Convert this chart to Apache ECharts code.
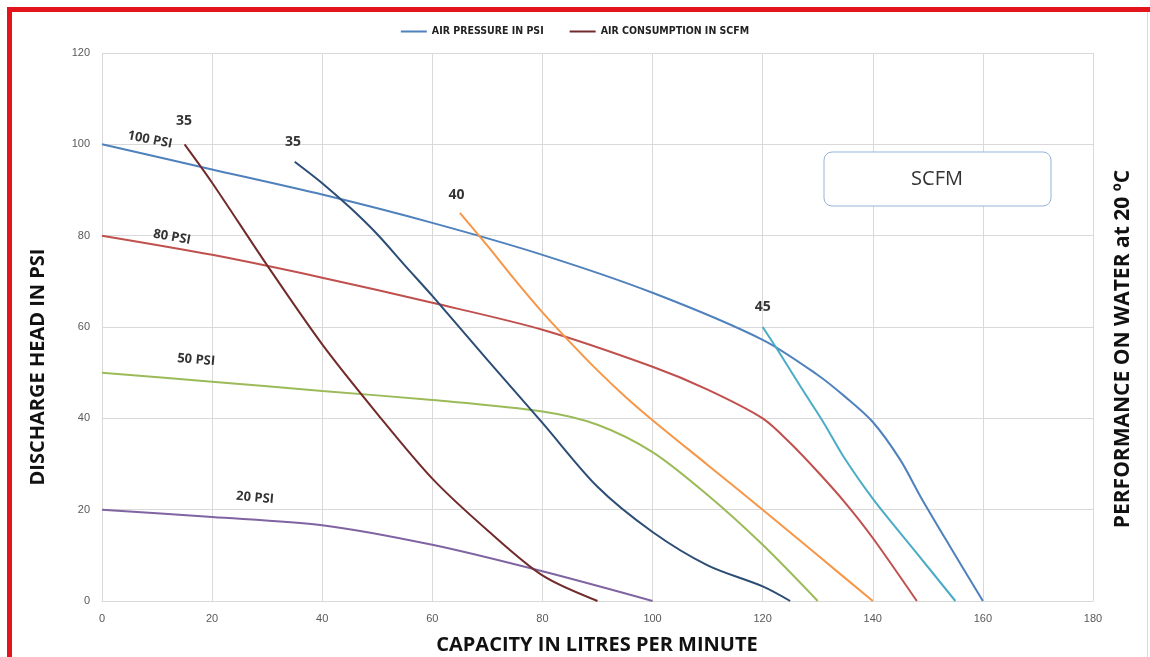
<!DOCTYPE html>
<html>
<head>
<meta charset="utf-8">
<script src="https://cdn.jsdelivr.net/npm/echarts@6/dist/echarts.min.js"></script>
<style>
html,body{margin:0;padding:0;background:#fff;}
#chart{width:1150px;height:657px;}
</style>
</head>
<body>
<div id="chart"></div>
<script>
// ---- data (capacity l/min, head psi) ----
var xTicks = [0, 20, 40, 60, 80, 100, 120, 140, 160, 180];
var yTicks = [0, 20, 40, 60, 80, 100, 120];

var psi100 = [[0,100],[20,94.5],[40,89],[60,82.8],[80,75.8],[100,67.5],[120,57.2],[130,49.5],[135,44.7],[140,39.2],[145,30.9],[148.7,22.8],[154,12],[160,0]];
var psi80  = [[0,80],[20,75.8],[40,70.8],[60,65.3],[80,59.4],[100,51.3],[110,46.3],[120,40],[125,34.6],[130,28.3],[135,21.5],[140,13.8],[148,0]];
var psi50  = [[0,50],[20,48],[40,46],[60,44],[80,41.5],[90,38.6],[100,32.6],[110,23.2],[120,12.3],[130,0]];
var psi20  = [[0,20],[20,18.4],[40,16.6],[60,12.3],[80,6.5],[100,0]];

var scfm35a = [[15,100],[20,91.6],[30,73.5],[40,56.2],[50,41],[60,26.8],[70,15.5],[80,5.6],[90,0]];
var scfm35b = [[35,96.2],[40,91.5],[45,86.2],[50,80.3],[55,73.5],[60,66.8],[70,52.8],[80,39],[90,25],[100,15.1],[110,7.8],[120,3.2],[125,0]];
var scfm40  = [[65,85],[70,77.8],[75,70.3],[80,63.2],[85,56.7],[90,50.5],[95,44.8],[100,39.6],[110,29.8],[120,20],[130,10],[140,0]];
var scfm45  = [[120,60],[122.7,55],[126.9,46.9],[131.1,39],[134.7,31.6],[140.2,22.1],[147.5,11.2],[155,0]];

var legendNames = ['AIR PRESSURE IN PSI', 'AIR CONSUMPTION IN SCFM'];

// curve labels: [x, y, text, rotation]
var psiLabels  = [[8.7,101,'100 PSI',-11],[12.7,79.7,'80 PSI',-10],[17.1,52.8,'50 PSI',-5],[27.8,22.6,'20 PSI',-5]];
var scfmLabels = [[14.9,105,'35',0],[34.7,100.6,'35',0],[64.4,89,'40',0],[120,64.4,'45',0]];

// ---- chart ----
var chart = echarts.init(document.getElementById('chart'));

function lineSeries(name, data, color) {
  return {
    name: name, type: 'line', data: data, smooth: 0.3,
    symbol: 'none', showSymbol: false,
    lineStyle: {color: color, width: 2}, itemStyle: {color: color}, z: 3
  };
}
function labelSeries(arr, size) {
  return {
    type: 'scatter', symbolSize: 0, silent: true, z: 5,
    data: arr.map(function (d) {
      return {value: [d[0], d[1]], name: d[2], label: {rotate: d[3]}};
    }),
    label: {show: true, position: 'inside', formatter: '{b}', color: '#000',
      fontFamily: 'Open Sans, Liberation Sans, sans-serif', fontWeight: 'bold', fontSize: size}
  };
}

var titleFont = 'Open Sans, Liberation Sans, sans-serif';

chart.setOption({
  animation: false,
  backgroundColor: '#fff',
  legend: {
    data: legendNames, top: 21, left: 'center', itemGap: 26,
    icon: 'rect', itemWidth: 26, itemHeight: 2,
    textStyle: {fontFamily: 'DejaVu Sans Condensed, Liberation Sans Narrow, sans-serif',
      fontSize: 10.5, fontWeight: 'bold', color: '#222'}
  },
  grid: {left: 102, right: 57, top: 53, bottom: 56, containLabel: false},
  xAxis: {
    type: 'value', min: 0, max: 180, interval: 20,
    axisLine: {show: true, lineStyle: {color: '#d9d9d9'}},
    axisTick: {show: false},
    axisLabel: {color: '#595959', fontSize: 11, margin: 12, fontFamily: 'Liberation Sans, sans-serif'},
    splitLine: {show: true, lineStyle: {color: '#d9d9d9'}}
  },
  yAxis: {
    type: 'value', min: 0, max: 120, interval: 20,
    axisLine: {show: false}, axisTick: {show: false},
    axisLabel: {color: '#595959', fontSize: 11, margin: 12, fontFamily: 'Liberation Sans, sans-serif'},
    splitLine: {show: true, lineStyle: {color: '#d9d9d9'}}
  },
  series: [
    lineSeries(legendNames[0], psi100, '#4f81bd'),
    lineSeries('80 PSI', psi80, '#c0504d'),
    lineSeries('50 PSI', psi50, '#9bbb59'),
    lineSeries('20 PSI', psi20, '#8064a2'),
    lineSeries(legendNames[1], scfm35a, '#722b2b'),
    lineSeries('35 SCFM', scfm35b, '#2c4d75'),
    lineSeries('40 SCFM', scfm40, '#f79646'),
    lineSeries('45 SCFM', scfm45, '#4bacc6'),
    labelSeries(psiLabels, 13),
    labelSeries(scfmLabels, 14)
  ],
  graphic: [
    {type: 'rect', shape: {x: 7, y: 7, width: 1143, height: 5}, style: {fill: '#e3141b'}, silent: true},
    {type: 'rect', shape: {x: 7, y: 7, width: 5, height: 650}, style: {fill: '#e3141b'}, silent: true},
    {type: 'rect', shape: {x: 1147, y: 12, width: 1, height: 645}, style: {fill: '#f6cccc'}, silent: true},
    {type: 'rect', shape: {x: 824, y: 152, width: 227, height: 54, r: 8},
      style: {fill: '#fff', stroke: '#95b3d7', lineWidth: 1}, z: 10},
    {type: 'text', x: 937, y: 179, z: 11,
      style: {text: 'SCFM', fontSize: 20, fontFamily: titleFont, fill: '#333', align: 'center', verticalAlign: 'middle'}},
    {type: 'text', x: 597, y: 645, z: 11,
      style: {text: 'CAPACITY IN LITRES PER MINUTE', fontSize: 20, fontWeight: 'bold', fontFamily: titleFont,
        fill: '#111', align: 'center', verticalAlign: 'middle'}},
    {type: 'text', x: 38, y: 367, rotation: Math.PI / 2, z: 11,
      style: {text: 'DISCHARGE HEAD IN PSI', fontSize: 20, fontWeight: 'bold', fontFamily: titleFont,
        fill: '#111', align: 'center', verticalAlign: 'middle'}},
    {type: 'text', x: 1123, y: 349, rotation: Math.PI / 2, z: 11,
      style: {text: 'PERFORMANCE ON WATER at 20 ºC', fontSize: 21, fontWeight: 'bold', fontFamily: titleFont,
        fill: '#111', align: 'center', verticalAlign: 'middle'}}
  ]
});
</script>
</body>
</html>
